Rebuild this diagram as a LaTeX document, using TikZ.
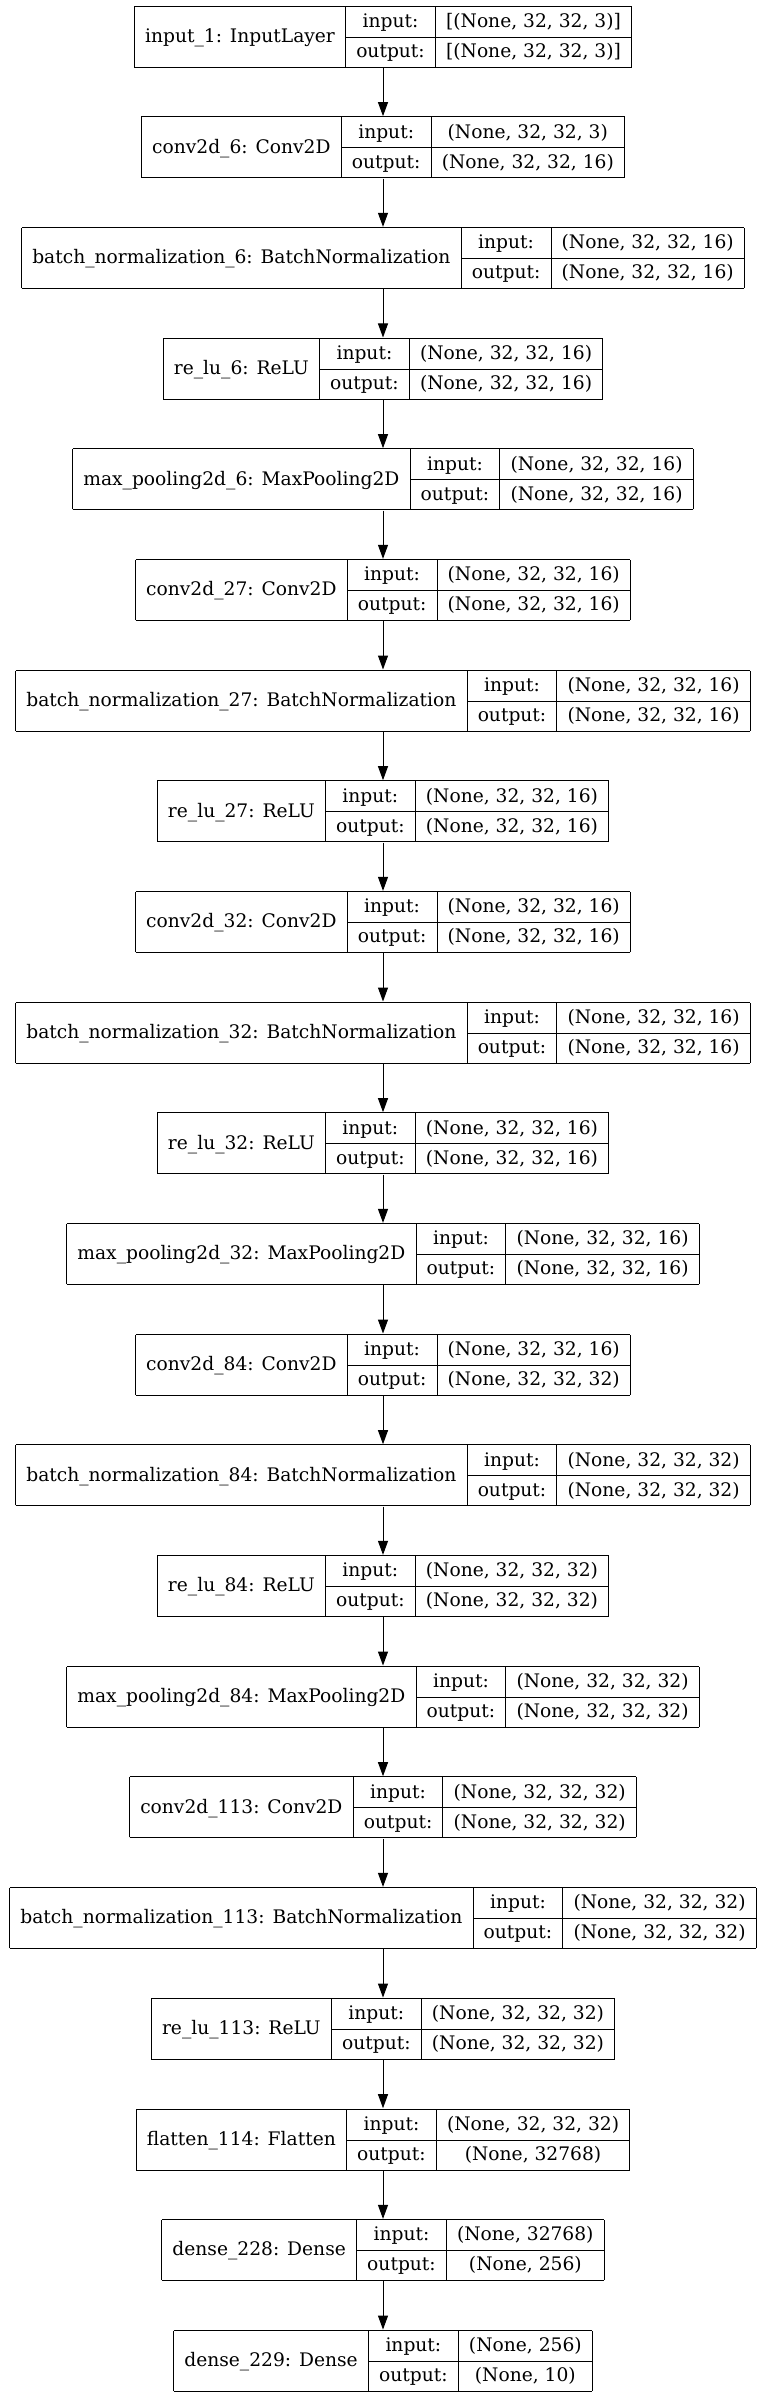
\documentclass[tikz,border=0pt]{standalone}
\usepackage{fontspec}
\setmainfont{DejaVu Serif}
\newfontfamily\kerasfont{DejaVu Serif}
\newcommand{\kfont}{\kerasfont\fontsize{14pt}{17pt}\selectfont}
\usetikzlibrary{arrows.meta}

\setlength{\arrayrulewidth}{0.75pt}
\setlength{\tabcolsep}{8pt}
\renewcommand{\arraystretch}{0}
\newcommand{\kstrut}{\rule[-7pt]{0pt}{22.5pt}}

% one keras layer: label, input shape, output shape
\newcommand{\layer}[3]{%
	\begin{tabular}{|c|c|c|}\hline
		\kstrut & input: & #2 \\ \cline{2-3}
		\kstrut\raisebox{11.2pt}[0pt][0pt]{#1} & output: & #3 \\ \hline
	\end{tabular}}

\begin{document}
\begin{tikzpicture}[x=0.75pt, y=-0.75pt,
	keras/.style={inner sep=0pt, font=\kfont},
	flow/.style={line width=0.75pt, -{Triangle[length=10.5pt, width=7.5pt]}}]
	\useasboundingbox (0,0) rectangle (763,2397);
	\draw (383,36.75) node[keras] (lay1) {\layer{input\_1: InputLayer}{[(None, 32, 32, 3)]}{[(None, 32, 32, 3)]}};
	\draw (383,147.42) node[keras] (lay2) {\layer{conv2d\_6: Conv2D}{(None, 32, 32, 3)}{(None, 32, 32, 16)}};
	\draw (383,258.09) node[keras] (lay3) {\layer{batch\_normalization\_6: BatchNormalization}{(None, 32, 32, 16)}{(None, 32, 32, 16)}};
	\draw (383,368.76) node[keras] (lay4) {\layer{re\_lu\_6: ReLU}{(None, 32, 32, 16)}{(None, 32, 32, 16)}};
	\draw (383,479.43) node[keras] (lay5) {\layer{max\_pooling2d\_6: MaxPooling2D}{(None, 32, 32, 16)}{(None, 32, 32, 16)}};
	\draw (383,590.10) node[keras] (lay6) {\layer{conv2d\_27: Conv2D}{(None, 32, 32, 16)}{(None, 32, 32, 16)}};
	\draw (383,700.77) node[keras] (lay7) {\layer{batch\_normalization\_27: BatchNormalization}{(None, 32, 32, 16)}{(None, 32, 32, 16)}};
	\draw (383,811.44) node[keras] (lay8) {\layer{re\_lu\_27: ReLU}{(None, 32, 32, 16)}{(None, 32, 32, 16)}};
	\draw (383,922.11) node[keras] (lay9) {\layer{conv2d\_32: Conv2D}{(None, 32, 32, 16)}{(None, 32, 32, 16)}};
	\draw (383,1032.78) node[keras] (lay10) {\layer{batch\_normalization\_32: BatchNormalization}{(None, 32, 32, 16)}{(None, 32, 32, 16)}};
	\draw (383,1143.45) node[keras] (lay11) {\layer{re\_lu\_32: ReLU}{(None, 32, 32, 16)}{(None, 32, 32, 16)}};
	\draw (383,1254.12) node[keras] (lay12) {\layer{max\_pooling2d\_32: MaxPooling2D}{(None, 32, 32, 16)}{(None, 32, 32, 16)}};
	\draw (383,1364.79) node[keras] (lay13) {\layer{conv2d\_84: Conv2D}{(None, 32, 32, 16)}{(None, 32, 32, 32)}};
	\draw (383,1475.46) node[keras] (lay14) {\layer{batch\_normalization\_84: BatchNormalization}{(None, 32, 32, 32)}{(None, 32, 32, 32)}};
	\draw (383,1586.13) node[keras] (lay15) {\layer{re\_lu\_84: ReLU}{(None, 32, 32, 32)}{(None, 32, 32, 32)}};
	\draw (383,1696.80) node[keras] (lay16) {\layer{max\_pooling2d\_84: MaxPooling2D}{(None, 32, 32, 32)}{(None, 32, 32, 32)}};
	\draw (383,1807.47) node[keras] (lay17) {\layer{conv2d\_113: Conv2D}{(None, 32, 32, 32)}{(None, 32, 32, 32)}};
	\draw (383,1918.14) node[keras] (lay18) {\layer{batch\_normalization\_113: BatchNormalization}{(None, 32, 32, 32)}{(None, 32, 32, 32)}};
	\draw (383,2028.81) node[keras] (lay19) {\layer{re\_lu\_113: ReLU}{(None, 32, 32, 32)}{(None, 32, 32, 32)}};
	\draw (383,2139.48) node[keras] (lay20) {\layer{flatten\_114: Flatten}{(None, 32, 32, 32)}{(None, 32768)}};
	\draw (383,2250.15) node[keras] (lay21) {\layer{dense\_228: Dense}{(None, 32768)}{(None, 256)}};
	\draw (383,2360.82) node[keras] (lay22) {\layer{dense\_229: Dense}{(None, 256)}{(None, 10)}};
	\draw[flow] (lay1) -- (lay2);
	\draw[flow] (lay2) -- (lay3);
	\draw[flow] (lay3) -- (lay4);
	\draw[flow] (lay4) -- (lay5);
	\draw[flow] (lay5) -- (lay6);
	\draw[flow] (lay6) -- (lay7);
	\draw[flow] (lay7) -- (lay8);
	\draw[flow] (lay8) -- (lay9);
	\draw[flow] (lay9) -- (lay10);
	\draw[flow] (lay10) -- (lay11);
	\draw[flow] (lay11) -- (lay12);
	\draw[flow] (lay12) -- (lay13);
	\draw[flow] (lay13) -- (lay14);
	\draw[flow] (lay14) -- (lay15);
	\draw[flow] (lay15) -- (lay16);
	\draw[flow] (lay16) -- (lay17);
	\draw[flow] (lay17) -- (lay18);
	\draw[flow] (lay18) -- (lay19);
	\draw[flow] (lay19) -- (lay20);
	\draw[flow] (lay20) -- (lay21);
	\draw[flow] (lay21) -- (lay22);
\end{tikzpicture}
\end{document}
